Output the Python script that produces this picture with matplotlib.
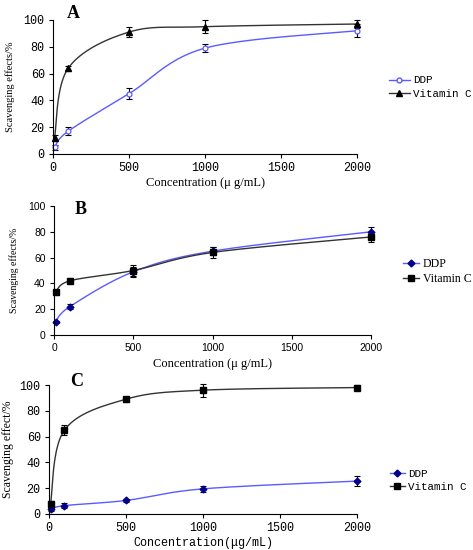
import numpy as np
import matplotlib
matplotlib.use('Agg')
import matplotlib.pyplot as plt

conc = [10, 100, 500, 1000, 2000]

ddp_a = [5, 17, 45, 79, 92]
ddp_a_err = [2, 3, 4, 3, 5]
vc_a = [12, 64, 91, 95, 97]
vc_a_err = [2, 2, 4, 5, 3]

ddp_b = [10, 22, 49, 65, 80]
ddp_b_err = [1, 2, 4, 3, 4]
vc_b = [33, 42, 50, 64, 76]
vc_b_err = [2, 2, 4, 4, 4]

ddp_c = [3.5, 6.5, 10.5, 19.5, 25.5]
ddp_c_err = [1, 2, 1.5, 2.5, 4]
vc_c = [8, 65, 89, 96, 98]
vc_c_err = [2, 4, 2, 5, 2]

BLUE = '#5b5bff'
NAVY = '#00008b'
GREY = '#333333'
SERIF = 'Liberation Serif'
MONO = 'Liberation Mono'
SANS = 'Liberation Sans'


def smooth(x, y, w, h, n=40):
    # excel-like bezier smoothing, done in pixel space
    px = np.asarray(x, float) / 2000 * w
    py = np.asarray(y, float) / 100 * h
    P = np.column_stack([px, py])
    out = []
    for i in range(len(P) - 1):
        p0 = P[i - 1] if i > 0 else P[i]
        p1, p2 = P[i], P[i + 1]
        p3 = P[i + 2] if i + 2 < len(P) else P[i + 1]
        c1 = p1 + (p2 - p0) / 6
        c2 = p2 - (p3 - p1) / 6
        t = np.linspace(0, 1, n)[:, None]
        seg = ((1 - t) ** 3 * p1 + 3 * (1 - t) ** 2 * t * c1
               + 3 * (1 - t) * t ** 2 * c2 + t ** 3 * p2)
        out.append(seg)
    s = np.vstack(out)
    return s[:, 0] / w * 2000, s[:, 1] / h * 100


def panel(ax, ddp, ddp_err, vc, vc_err, ddp_m, ddp_face, vc_m, tickfont, ticksize):
    bb = ax.get_position()
    w, h = bb.width * 473, bb.height * 550
    ddp_edge = NAVY if ddp_face != 'white' else BLUE
    sx, sy = smooth(conc, ddp, w, h)
    ax.plot(sx, sy, color=BLUE, lw=1, clip_on=False)
    sx, sy = smooth(conc, vc, w, h)
    ax.plot(sx, sy, color=GREY, lw=1, clip_on=False)
    ax.errorbar(conc, ddp, yerr=ddp_err, fmt='none', ecolor='black', elinewidth=0.8,
                capsize=2.5, capthick=0.8, clip_on=False)
    ax.errorbar(conc, vc, yerr=vc_err, fmt='none', ecolor='black', elinewidth=0.8,
                capsize=2.5, capthick=0.8, clip_on=False)
    ax.plot(conc, ddp, ddp_m, ms=3.5, mfc=ddp_face, mec=ddp_edge,
            mew=0.9, ls='none', clip_on=False)
    ax.plot(conc, vc, vc_m, ms=3.8, color='black', ls='none', clip_on=False)
    # legend proxies
    h1, = ax.plot([], [], color=BLUE, lw=1, marker=ddp_m, ms=3.5, mfc=ddp_face, mec=ddp_edge)
    h2, = ax.plot([], [], color=GREY, lw=1, marker=vc_m, ms=3.8, mfc='black', mec='black')
    ax.set_xlim(0, 2000)
    ax.set_ylim(0, 100)
    ax.set_xticks([0, 500, 1000, 1500, 2000])
    ax.set_yticks([0, 20, 40, 60, 80, 100])
    for s in ['top', 'right']:
        ax.spines[s].set_visible(False)
    for s in ['left', 'bottom']:
        ax.spines[s].set_linewidth(0.8)
    ax.tick_params(direction='out', length=3, width=0.8, labelsize=ticksize, pad=3)
    for lab in ax.get_xticklabels() + ax.get_yticklabels():
        lab.set_fontfamily(tickfont)
    return [h1, h2]


fig = plt.figure(figsize=(4.73, 5.5), dpi=100)
fig.patch.set_facecolor('white')

ax_a = fig.add_axes([53 / 473, 1 - 154 / 550, 304 / 473, 134 / 550])
ax_b = fig.add_axes([54 / 473, 1 - 335 / 550, 317 / 473, 129 / 550])
ax_c = fig.add_axes([49 / 473, 1 - 514 / 550, 308 / 473, 129 / 550])

hs = panel(ax_a, ddp_a, ddp_a_err, vc_a, vc_a_err, 'o', 'white', '^', MONO, 8.5)
ax_a.legend(hs, ['DDP', 'Vitamin C'], loc='center left', bbox_to_anchor=(1.086, 0.5),
            frameon=False, borderpad=0, handlelength=2.0, handletextpad=0.3,
            labelspacing=0.3, prop={'family': MONO, 'size': 7.8})
ax_a.set_ylabel('Scavenging effects/%', family=SERIF, fontsize=7.5, labelpad=6)
ax_a.set_xlabel('Concentration (\u03bc g/mL)', family=SERIF, fontsize=9, labelpad=2)
fig.text(73 / 473, 1 - 13 / 550, 'A', family=SERIF, weight='bold', fontsize=13,
         ha='center', va='center')

hs = panel(ax_b, ddp_b, ddp_b_err, vc_b, vc_b_err, 'D', NAVY, 's', SANS, 7.5)
ax_b.legend(hs, ['DDP', 'Vitamin C'], loc='center left', bbox_to_anchor=(1.082, 0.49),
            frameon=False, borderpad=0, handlelength=1.4, handletextpad=0.3,
            labelspacing=0.25, prop={'family': SERIF, 'size': 8.5})
ax_b.set_ylabel('Scavenging effects/%', family=SERIF, fontsize=7, labelpad=7)
ax_b.set_xlabel('Concentration (\u03bc g/mL)', family=SERIF, fontsize=9, labelpad=3)
fig.text(81 / 473, 1 - 210 / 550, 'B', family=SERIF, weight='bold', fontsize=13,
         ha='center', va='center')

hs = panel(ax_c, ddp_c, ddp_c_err, vc_c, vc_c_err, 'D', NAVY, 's', MONO, 8.5)
ax_c.legend(hs, ['DDP', 'Vitamin C'], loc='center left', bbox_to_anchor=(1.091, 0.26),
            frameon=False, borderpad=0, handlelength=1.3, handletextpad=0.3,
            labelspacing=0.3, prop={'family': MONO, 'size': 7.8})
ax_c.set_ylabel('Scavenging effect/%', family=SERIF, fontsize=8.5, labelpad=4)
ax_c.set_xlabel('Concentration(\u03bcg/mL)', family=MONO, fontsize=8.5, labelpad=2)
fig.text(77 / 473, 1 - 382 / 550, 'C', family=SERIF, weight='bold', fontsize=13,
         ha='center', va='center')

fig.savefig('out.png', dpi=100, facecolor='white')
